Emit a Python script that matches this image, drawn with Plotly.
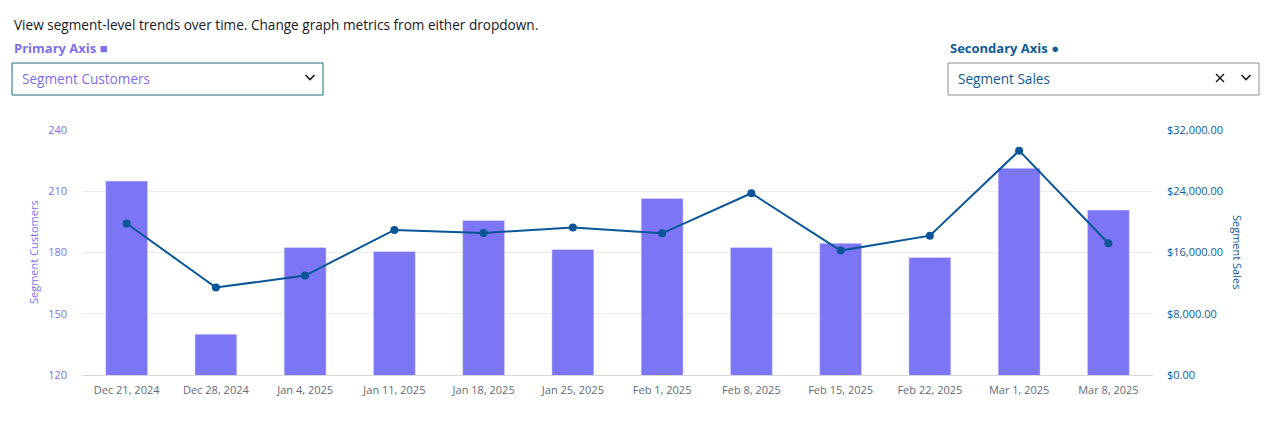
import plotly.graph_objects as go

# chart data
weeks = ["Dec 21, 2024", "Dec 28, 2024", "Jan 4, 2025", "Jan 11, 2025", "Jan 18, 2025",
         "Jan 25, 2025", "Feb 1, 2025", "Feb 8, 2025", "Feb 15, 2025", "Feb 22, 2025",
         "Mar 1, 2025", "Mar 8, 2025"]
segment_customers = [215, 140, 182.5, 180.5, 195.7, 181.5, 206.5, 182.5, 184.5, 177.6, 221.3, 200.8]
segment_sales = [19780, 11430, 12990, 18950, 18560, 19260, 18500, 23740, 16250, 18200, 29300, 17200]

W, H = 1274, 424
# page body has an 8px margin, so work in screen pixels and shift
OX, OY = 8, 8
PL, PR, PT, PB = 82, 1153, 130, 375  # plot area in screen pixels
L, T = PL - OX, PT - OY
R, B = W - (PR - OX), H - (PB - OY)
PW, PH = PR - PL, PB - PT

BAR = "#7c76f4"
LINE = "#0a5597"
PURPLE = "#7b70ea"
NAVY = "#0f5a94"
FONT = "Open Sans, Noto Sans, sans-serif"


def px(x):
    return (x - PL) / PW


def py(y):
    return (PB - y) / PH


fig = go.Figure()
fig.add_trace(go.Bar(x=weeks, y=segment_customers, name="Segment Customers",
                     marker=dict(color=BAR), yaxis="y"))
fig.add_trace(go.Scatter(x=weeks, y=segment_sales, name="Segment Sales", mode="lines+markers",
                         line=dict(color=LINE, width=2), marker=dict(color=LINE, size=8),
                         yaxis="y2"))

shapes = []
annotations = []


def label(x, y, text, size, color, anchor="left", angle=0):
    annotations.append(dict(x=px(x), y=py(y), xref="paper", yref="paper", xanchor=anchor,
                            yanchor="middle", text=text, showarrow=False, textangle=angle,
                            font=dict(size=size, color=color, family=FONT)))


# header text and dropdown boxes
label(12, 25, "View segment-level trends over time. Change graph metrics from either dropdown.", 13.6, "#16191f")
label(12, 48, "<b>Primary Axis</b> ■", 13, PURPLE)
label(948, 48, "<b>Secondary Axis</b> ●", 13, NAVY)

shapes.append(dict(type="rect", xref="paper", yref="paper", x0=px(12), x1=px(323), y0=py(63), y1=py(95),
                   line=dict(color="#1b6f7b", width=1), fillcolor="white", layer="above"))
shapes.append(dict(type="rect", xref="paper", yref="paper", x0=px(948), x1=px(1259), y0=py(63), y1=py(95),
                   line=dict(color="#8a8f96", width=1), fillcolor="white", layer="above"))
label(20, 79, "Segment Customers", 13.6, PURPLE)
label(956, 79, "Segment Sales", 13.6, NAVY)

# axis titles
label(33, 252, "Segment Customers", 11, PURPLE, anchor="center", angle=-90)
label(1238, 252, "Segment Sales", 11, NAVY, anchor="center", angle=90)


def chevron(cx, cy):
    return dict(type="path", xref="paper", yref="paper",
                path=f"M {px(cx - 4.5)} {py(cy - 2)} L {px(cx)} {py(cy + 2.5)} L {px(cx + 4.5)} {py(cy - 2)}",
                line=dict(color="#16191f", width=1.6))


shapes.append(chevron(310, 77))
shapes.append(chevron(1246, 77))
for a, b in [((1216, 74), (1224, 82)), ((1216, 82), (1224, 74))]:
    shapes.append(dict(type="line", xref="paper", yref="paper", x0=px(a[0]), y0=py(a[1]),
                       x1=px(b[0]), y1=py(b[1]), line=dict(color="#16191f", width=1.5)))

fig.update_layout(
    width=W, height=H,
    margin=dict(l=L, r=R, t=T, b=B, autoexpand=False),
    paper_bgcolor="white", plot_bgcolor="white",
    showlegend=False,
    bargap=0.53,
    font=dict(family=FONT, size=11),
    xaxis=dict(type="category", range=[-0.5, len(weeks) - 0.5], showgrid=False, showline=True,
               linecolor="#d5d8db", tickfont=dict(size=11, color="#5f6b7a"), ticks="",
               ticklabelstandoff=5, automargin=False),
    yaxis=dict(range=[120, 240], dtick=30, showgrid=True, gridcolor="#e9ebed", zeroline=False,
               tickfont=dict(size=11, color=PURPLE), ticklabelstandoff=14, automargin=False),
    yaxis2=dict(range=[0, 32000], dtick=8000, overlaying="y", side="right", showgrid=False,
                zeroline=False, tickformat="$,.2f", tickfont=dict(size=11, color=NAVY),
                ticklabelstandoff=13, automargin=False),
    shapes=shapes,
    annotations=annotations,
)

fig.write_html("out.html")
